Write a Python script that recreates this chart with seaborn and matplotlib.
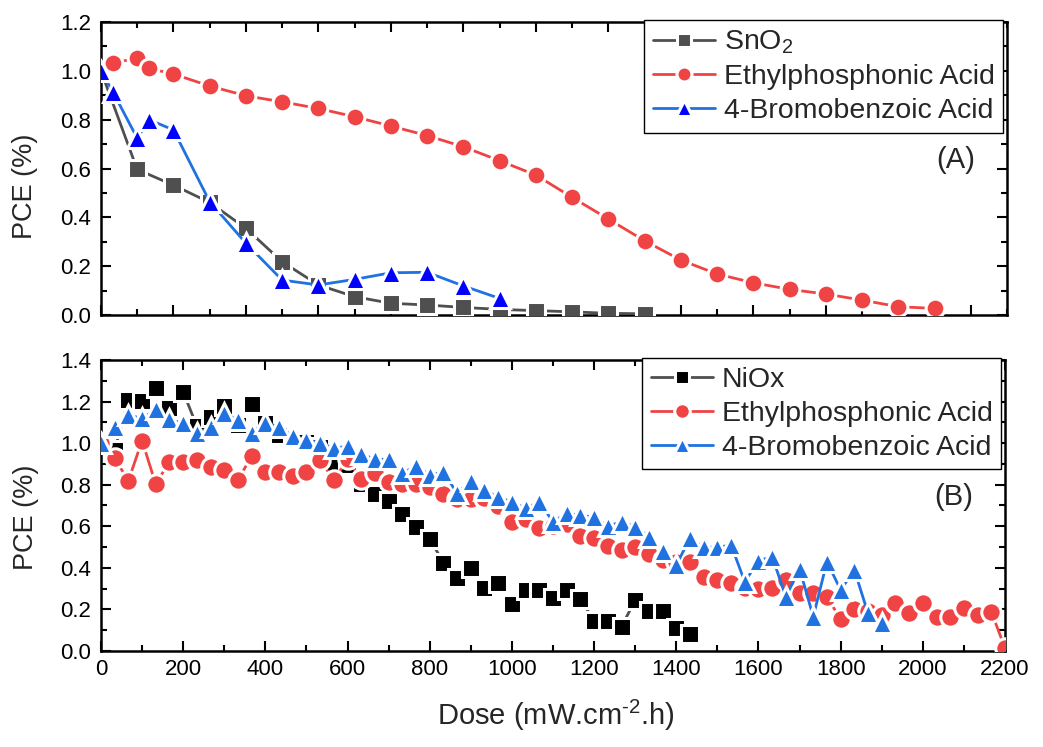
import numpy as np
import pandas as pd
import matplotlib
matplotlib.use("Agg")
import matplotlib.pyplot as plt
from matplotlib.ticker import MultipleLocator
import seaborn as sns

# ---------------- Panel A: SnO2-based devices ----------------
dose_a_sno2 = [0, 88, 176, 264, 352, 440, 528, 616, 704, 792, 880, 968,
               1056, 1144, 1232, 1320]
pce_a_sno2 = [1.0, 0.596, 0.532, 0.461, 0.355, 0.218, 0.123, 0.075, 0.048,
              0.041, 0.031, 0.023, 0.018, 0.013, 0.007, 0.005]

dose_a_epa = [0, 29, 88, 117, 176, 264, 352, 440, 528, 616, 704, 792, 880,
              968, 1056, 1144, 1232, 1320, 1408, 1496, 1584, 1672, 1760,
              1848, 1936, 2024]
pce_a_epa = [1.0, 1.033, 1.051, 1.01, 0.987, 0.938, 0.898, 0.873, 0.846,
             0.812, 0.774, 0.735, 0.689, 0.632, 0.573, 0.482, 0.393, 0.304,
             0.225, 0.168, 0.132, 0.105, 0.086, 0.061, 0.034, 0.027]

dose_a_bba = [0, 29, 88, 117, 176, 264, 352, 440, 528, 616, 704, 792, 880,
              968]
pce_a_bba = [1.0, 0.914, 0.724, 0.80, 0.758, 0.464, 0.294, 0.143, 0.123,
             0.146, 0.173, 0.175, 0.119, 0.068]

# ---------------- Panel B: NiOx-based devices ----------------
dose_b = [0, 33.3, 66.7, 100, 133.3, 166.7, 200, 233.3, 266.7, 300, 333.3,
          366.7, 400, 433.3, 466.7, 500, 533.3, 566.7, 600, 633.3, 666.7,
          700, 733.3, 766.7, 800, 833.3, 866.7, 900, 933.3, 966.7, 1000,
          1033.3, 1066.7, 1100, 1133.3, 1166.7, 1200, 1233.3, 1266.7, 1300,
          1333.3, 1366.7, 1400, 1433.3, 1466.7, 1500, 1533.3, 1566.7, 1600,
          1633.3, 1666.7, 1700, 1733.3, 1766.7, 1800, 1833.3, 1866.7, 1900,
          1933.3, 1966.7, 2000, 2033.3, 2066.7, 2100, 2133.3, 2166.7, 2200]

pce_b_niox = [1.0, 0.967, 1.207, 1.204, 1.264, 1.167, 1.247, 1.082, 1.127,
              1.178, 1.087, 1.188, 1.095, 1.039, 1.015, 1.007, 0.983, 0.902,
              0.895, 0.803, 0.755, 0.723, 0.659, 0.598, 0.540, 0.425, 0.353,
              0.398, 0.302, 0.326, 0.226, 0.293, 0.293, 0.253, 0.293, 0.250,
              0.146, 0.146, 0.117, 0.245, 0.194, 0.194, 0.109, 0.082]

pce_b_epa = [1.0, 0.927, 0.819, 1.012, 0.803, 0.911, 0.911, 0.919, 0.883,
             0.873, 0.822, 0.938, 0.863, 0.863, 0.844, 0.863, 0.919, 0.822,
             0.922, 0.826, 0.855, 0.815, 0.803, 0.803, 0.787, 0.755, 0.730,
             0.730, 0.734, 0.697, 0.622, 0.633, 0.593, 0.601, 0.611, 0.553,
             0.542, 0.505, 0.486, 0.502, 0.467, 0.438, 0.430, 0.430, 0.357,
             0.342, 0.326, 0.302, 0.297, 0.302, 0.342, 0.278, 0.278, 0.261,
             0.152, 0.200, 0.194, 0.173, 0.232, 0.181, 0.229, 0.162, 0.162,
             0.208, 0.173, 0.189, 0.013]

pce_b_bba = [1.0, 1.079, 1.135, 1.119, 1.162, 1.114, 1.095, 1.047, 1.079,
             1.143, 1.111, 1.050, 1.098, 1.079, 1.034, 1.015, 1.002, 0.975,
             0.986, 0.948, 0.922, 0.922, 0.855, 0.89, 0.847, 0.862, 0.758,
             0.819, 0.774, 0.739, 0.718, 0.686, 0.718, 0.622, 0.662, 0.654,
             0.643, 0.600, 0.622, 0.598, 0.550, 0.482, 0.414, 0.542, 0.499,
             0.499, 0.510, 0.333, 0.434, 0.454, 0.261, 0.396, 0.165, 0.430,
             0.293, 0.390, 0.181, 0.136]

labels_a = ["SnO$_2$", "Ethylphosphonic Acid", "4-Bromobenzoic Acid"]
labels_b = ["NiOx", "Ethylphosphonic Acid", "4-Bromobenzoic Acid"]

# ---------------- styling ----------------
sns.set_theme(style="white")
plt.rcParams["font.family"] = ["Liberation Sans", "DejaVu Sans"]
plt.rcParams["mathtext.fontset"] = "custom"
plt.rcParams["mathtext.rm"] = "Liberation Sans"
plt.rcParams["mathtext.it"] = "Liberation Sans:italic"
plt.rcParams["mathtext.bf"] = "Liberation Sans:bold"

GRAY = "#4f4f4f"
RED = "#f04444"
BLUE_LINE = "#1f72e0"
BLUE_A = "#0000ff"
BLACK = "#000000"

TICK_FS = 16
LEG_FS = 20.5
TAG_FS = 21
YLAB_FS = 19.5
XLAB_FS = 21

fig = plt.figure(figsize=(10.43, 7.47), dpi=100)
ax_a = fig.add_axes([0.0968, 0.5783, 0.8687, 0.3922])
ax_b = fig.add_axes([0.0968, 0.1285, 0.8668, 0.3896])


def draw(ax, x, y, label, marker, ms, face, line, zorder):
    df = pd.DataFrame({"dose": x, "pce": y})
    sns.lineplot(data=df, x="dose", y="pce", ax=ax, sort=False,
                 estimator=None, color=line, linewidth=2.0,
                 marker=marker, markersize=ms, markerfacecolor=face,
                 markeredgecolor="white", markeredgewidth=2.2,
                 label=label, zorder=zorder)


# Panel A
draw(ax_a, dose_a_sno2, pce_a_sno2, labels_a[0], "s", 12.5, GRAY, GRAY, 3)
draw(ax_a, dose_a_epa, pce_a_epa, labels_a[1], "o", 13.5, RED, RED, 4)
draw(ax_a, dose_a_bba, pce_a_bba, labels_a[2], "^", 15, BLUE_A, BLUE_LINE, 5)

# Panel B
draw(ax_b, dose_b[:len(pce_b_niox)], pce_b_niox, labels_b[0], "s", 13,
     BLACK, GRAY, 3)
draw(ax_b, dose_b[:len(pce_b_epa)], pce_b_epa, labels_b[1], "o", 14,
     RED, RED, 4)
draw(ax_b, dose_b[:len(pce_b_bba)], pce_b_bba, labels_b[2], "^", 15,
     BLUE_LINE, BLUE_LINE, 5)

for ax in (ax_a, ax_b):
    ax.set_xlim(0, 2200)
    for side in ("left", "right", "top", "bottom"):
        ax.spines[side].set_visible(True)
        ax.spines[side].set_color("black")
        ax.spines[side].set_linewidth(1.8)
    ax.tick_params(axis="both", which="both", direction="in",
                   top=True, right=True, left=True, bottom=True,
                   width=1.5, colors="black", labelsize=TICK_FS)
    ax.tick_params(axis="both", which="major", length=7.5, pad=7)
    ax.tick_params(axis="both", which="minor", length=4.5)
    ax.yaxis.set_major_locator(MultipleLocator(0.2))
    ax.yaxis.set_minor_locator(MultipleLocator(0.1))
    ax.yaxis.set_major_formatter(plt.FormatStrFormatter("%.1f"))
    ax.set_ylabel("PCE (%)", fontsize=YLAB_FS)
    ax.grid(False)

ax_a.yaxis.set_label_coords(-0.069, 0.44)
ax_b.yaxis.set_label_coords(-0.069, 0.46)

ax_a.set_ylim(0, 1.2)
ax_a.xaxis.set_major_locator(MultipleLocator(176))
ax_a.xaxis.set_minor_locator(MultipleLocator(88))
ax_a.tick_params(axis="x", which="both", labelbottom=False)
ax_a.set_xlabel("")

ax_b.set_ylim(0, 1.4)
ax_b.xaxis.set_major_locator(MultipleLocator(200))
ax_b.xaxis.set_minor_locator(MultipleLocator(100))
ax_b.tick_params(axis="x", which="major", pad=6)
ax_b.set_xlabel("Dose (mW.cm$^{\\mathregular{\\text{-}2}}$.h)",
                fontsize=XLAB_FS)
ax_b.xaxis.set_label_coords(0.503, -0.162)

for ax, tag in ((ax_a, "(A)"), (ax_b, "(B)")):
    leg = ax.legend(loc="upper right", bbox_to_anchor=(0.996, 1.006),
                    borderaxespad=0, fontsize=LEG_FS, frameon=True,
                    fancybox=False, framealpha=1, edgecolor="black",
                    handlelength=2.2, handletextpad=0.3, labelspacing=0.28,
                    borderpad=0.3, markerscale=0.8)
    leg.get_frame().set_linewidth(1.0)
    leg.set_zorder(10)
    ax.text(0.943, 0.53, tag, transform=ax.transAxes, ha="center",
            va="center", fontsize=TAG_FS)

fig.savefig("out.png", dpi=100)
